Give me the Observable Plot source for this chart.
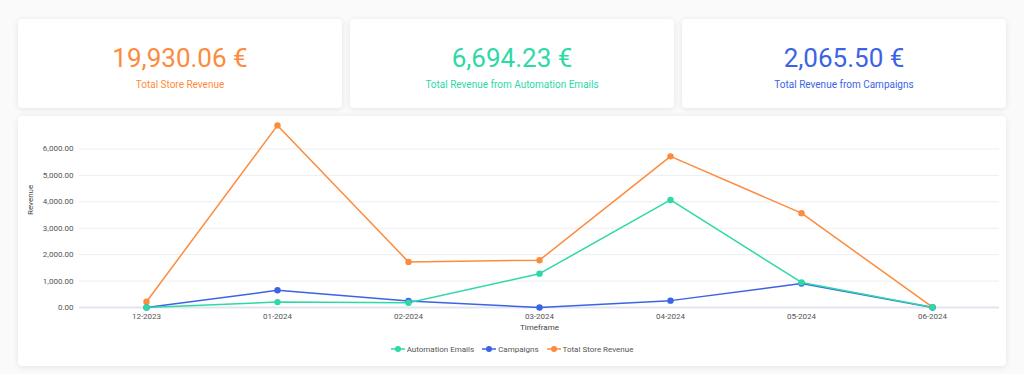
<!DOCTYPE html>
<html>
<head>
<meta charset="utf-8">
<script src="https://cdn.jsdelivr.net/npm/d3@7"></script>
<script src="https://cdn.jsdelivr.net/npm/@observablehq/plot@0.6"></script>
<style>
  html, body { margin: 0; padding: 0; }
  body { width: 1024px; height: 374px; background: #fafafa; font-family: Roboto, "Noto Sans", sans-serif; position: relative; overflow: hidden; }
  .card { position: absolute; background: #fff; border-radius: 4px; box-shadow: 0 1px 6px rgba(0,0,0,0.09); }
  .kpi { top: 19px; height: 89px; width: 324px; }
  .kpi .num { position: absolute; left: 0; right: 0; top: 39px; height: 36px; margin-top: -18px; line-height: 36px; text-align: center; font-size: 26px; font-weight: 400; }
  .kpi .lbl { position: absolute; left: 0; right: 0; top: 66px; height: 14px; margin-top: -7px; line-height: 14px; text-align: center; font-size: 10px; }
  #chart { left: 18px; top: 116px; width: 988px; height: 250px; }
  #plot { position: absolute; left: 0; top: 0; }
  #legend { position: absolute; left: 0; right: 0; top: 226px; height: 14px; display: flex; justify-content: center; align-items: center; font-size: 8px; color: #555; }
  #legend .item { display: flex; align-items: center; margin: 0 4px; }
  #legend svg { margin-right: 2px; }
</style>
</head>
<body>
<div id="kpis"></div>
<div class="card" id="chart"><div id="plot"></div><div id="legend"></div></div>
<script>
const months = ["12-2023", "01-2024", "02-2024", "03-2024", "04-2024", "05-2024", "06-2024"];
const automationEmails = [0, 205, 180, 1280, 4070, 950, 9];
const campaigns = [0, 650, 250, 0, 260, 905, 0];
const totalStoreRevenue = [220, 6890, 1725, 1790, 5720, 3570, 15];
const seriesNames = ["Automation Emails", "Campaigns", "Total Store Revenue"];
const seriesColors = ["#2dd9a7", "#3c63e6", "#fd8b3c"];
const yTicks = [0, 1000, 2000, 3000, 4000, 5000, 6000];
const kpiValues = ["19,930.06 €", "6,694.23 €", "2,065.50 €"];
const kpiLabels = ["Total Store Revenue", "Total Revenue from Automation Emails", "Total Revenue from Campaigns"];
const kpiColors = ["#fd8b3c", "#2dd9a7", "#3c63e6"];

// KPI cards
const kpiLeft = [18, 350, 682];
const kpis = document.getElementById("kpis");
kpiValues.forEach((v, i) => {
  const c = document.createElement("div");
  c.className = "card kpi";
  c.style.left = kpiLeft[i] + "px";
  c.style.color = kpiColors[i];
  c.innerHTML = `<div class="num">${v}</div><div class="lbl">${kpiLabels[i]}</div>`;
  kpis.appendChild(c);
});

// Data table
const seriesValues = [automationEmails, campaigns, totalStoreRevenue];
const data = [];
// draw order: Total first, then Campaigns, then Automation on top
[2, 1, 0].forEach(s => {
  months.forEach((m, i) => data.push({month: m, value: seriesValues[s][i], series: seriesNames[s]}));
});

const fmt = d3.format(",.2f");
const plot = Plot.plot({
  width: 988,
  height: 220,
  marginTop: 6,
  marginBottom: 29,
  marginLeft: 61,
  marginRight: 7,
  style: {fontFamily: "Roboto, sans-serif", fontSize: "8px", color: "#555", background: "transparent"},
  x: {type: "point", domain: months, padding: 0.5, label: null},
  y: {domain: [0, 7000], label: null},
  color: {domain: seriesNames, range: seriesColors},
  marks: [
    Plot.ruleY(yTicks.filter(d => d > 0), {stroke: "#eceef2", strokeWidth: 1}),
    Plot.ruleY([0], {stroke: "#e2e5ef", strokeWidth: 2}),
    Plot.axisY(yTicks, {tickSize: 0, tickPadding: 6, tickFormat: fmt, fill: "#555", label: null}),
    Plot.axisX({tickSize: 0, tickPadding: 6, fill: "#555", label: null}),
    Plot.text(["Revenue"], {frameAnchor: "left", dx: -49, rotate: -90, fill: "#444", fontSize: 8}),
    Plot.text(["Timeframe"], {frameAnchor: "bottom", dy: 22, fill: "#444", fontSize: 8}),
    Plot.line(data, {x: "month", y: "value", z: "series", stroke: "series", strokeWidth: 1.5}),
    Plot.dot(data, {x: "month", y: "value", fill: "series", r: 3.2})
  ]
});
document.getElementById("plot").appendChild(plot);

// Legend
const legend = document.getElementById("legend");
seriesNames.forEach((n, i) => {
  const it = document.createElement("div");
  it.className = "item";
  it.innerHTML = `<svg width="14" height="8"><line x1="0" x2="14" y1="4" y2="4" stroke="${seriesColors[i]}" stroke-width="1.5"/><circle cx="7" cy="4" r="3" fill="${seriesColors[i]}"/></svg><span>${n}</span>`;
  legend.appendChild(it);
});
</script>
</body>
</html>
